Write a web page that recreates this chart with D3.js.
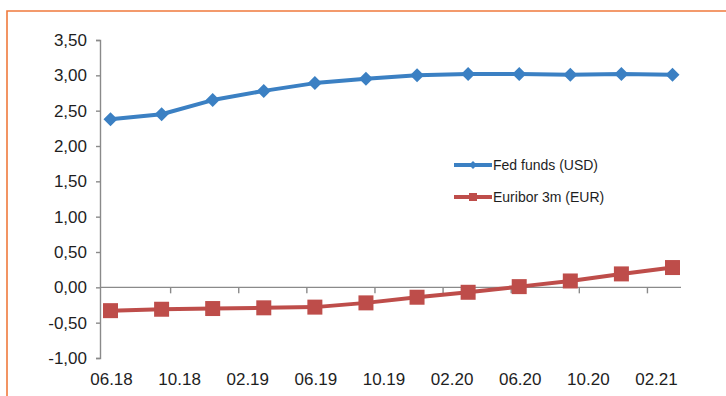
<!DOCTYPE html>
<html>
<head>
<meta charset="utf-8">
<script src="https://cdn.jsdelivr.net/npm/d3@7/dist/d3.min.js"></script>
<style>
  html, body { margin: 0; padding: 0; background: #fff; }
  svg { display: block; font-family: "Liberation Sans", Arial, sans-serif; }
</style>
</head>
<body>
<svg id="chart" width="726" height="396"></svg>
<script>
// Quarterly observations (month "YYYY-MM")
const periods = ["2018-06","2018-09","2018-12","2019-03","2019-06","2019-09",
                 "2019-12","2020-03","2020-06","2020-09","2020-12","2021-03"];
const fedFunds  = [2.38, 2.45, 2.65, 2.78, 2.89, 2.95, 3.00, 3.02, 3.02, 3.01, 3.02, 3.01];
const euribor3m = [-0.33, -0.31, -0.30, -0.29, -0.28, -0.22, -0.14, -0.07, 0.01, 0.09, 0.19, 0.28];
const seriesNames = ["Fed funds (USD)", "Euribor 3m (EUR)"];
const seriesColors = ["#3b80c3", "#be4d4a"];
const yTicks = [-1, -0.5, 0, 0.5, 1, 1.5, 2, 2.5, 3, 3.5];
const xTickLabels = ["06.18","10.18","02.19","06.19","10.19","02.20","06.20","10.20","02.21"];

// months counted from June 2018
const monthIndex = s => { const [y, m] = s.split("-").map(Number); return (y - 2018) * 12 + (m - 6); };
const labelIndex = s => { const [m, y] = s.split(".").map(Number); return (2000 + y - 2018) * 12 + (m - 6); };

const svg = d3.select("#chart");

// outer frame
svg.append("path")
  .attr("d", "M7,396 L7,11 L726,11")
  .attr("fill", "none").attr("stroke", "#ef7a3c").attr("stroke-width", 1.6);

const x = d3.scaleLinear().domain([-0.5, 33.5]).range([102, 681]);
const y = d3.scaleLinear().domain([-1, 3.5]).range([358, 40]);

const locale = d3.formatLocale({ decimal: ",", thousands: ".", grouping: [3], currency: ["", "€"], minus: "-" });
const fmt = locale.format(".2f");

const axisColor = "#8a8a8a";
const textColor = "#1e1e1e";

// y axis
const yAxis = svg.append("g")
  .attr("transform", "translate(100,0)")
  .call(d3.axisLeft(y).tickValues(yTicks).tickFormat(fmt).tickSize(4).tickSizeOuter(4).tickPadding(9));
yAxis.select(".domain").attr("stroke", axisColor).attr("stroke-width", 1.4);
yAxis.selectAll(".tick line").attr("stroke", axisColor).attr("stroke-width", 1.4);
yAxis.selectAll(".tick text").attr("fill", textColor).style("font-size", "17px")
  .style("font-family", "'Liberation Sans', Arial, sans-serif");

// x axis along zero, ticks at month boundaries between labelled months
const tickPos = xTickLabels.map(labelIndex).filter(m => m > 0).map(m => m - 0.5);
const xAxis = svg.append("g")
  .attr("transform", `translate(0,${y(0)})`)
  .call(d3.axisBottom(x).tickValues(tickPos).tickFormat("").tickSize(6).tickSizeOuter(0));
xAxis.select(".domain").attr("d", `M100,0H${x.range()[1]}`)
  .attr("stroke", axisColor).attr("stroke-width", 1.4);
xAxis.selectAll(".tick line").attr("stroke", axisColor).attr("stroke-width", 1.4);

// x labels at the bottom of the plot
svg.append("g").selectAll("text")
  .data(xTickLabels)
  .join("text")
  .attr("x", d => x(labelIndex(d)) + 1)
  .attr("y", 385)
  .attr("text-anchor", "middle")
  .attr("fill", textColor)
  .style("font-size", "17px")
  .text(d => d);

const series = [fedFunds, euribor3m].map((vals, i) => ({
  name: seriesNames[i], color: seriesColors[i],
  points: periods.map((p, j) => ({ m: monthIndex(p), v: vals[j] }))
}));

const line = d3.line().x(d => x(d.m)).y(d => y(d.v));
const diamond = r => `M0,${-r}L${r},0L0,${r}L${-r},0Z`;
const square = s => `M${-s/2},${-s/2}h${s}v${s}h${-s}Z`;

series.forEach((s, i) => {
  const g = svg.append("g");
  g.append("path").datum(s.points).attr("d", line)
    .attr("fill", "none").attr("stroke", s.color).attr("stroke-width", 4)
    .attr("stroke-linejoin", "round");
  g.selectAll("path.mk").data(s.points).join("path")
    .attr("class", "mk")
    .attr("transform", d => `translate(${x(d.m)},${y(d.v)})`)
    .attr("d", i === 0 ? diamond(7) : square(15))
    .attr("fill", s.color);
});

// legend
const legend = svg.append("g").attr("transform", "translate(454,165)");
series.forEach((s, i) => {
  const row = legend.append("g").attr("transform", `translate(0,${i * 32})`);
  row.append("line").attr("x1", 0).attr("x2", 38).attr("y1", 0).attr("y2", 0)
    .attr("stroke", s.color).attr("stroke-width", 4);
  row.append("path").attr("transform", "translate(19,0)")
    .attr("d", i === 0 ? diamond(4) : square(8)).attr("fill", s.color);
  row.append("text").attr("x", 39).attr("y", 5)
    .attr("fill", textColor).style("font-size", "14px").text(s.name);
});
</script>
</body>
</html>
